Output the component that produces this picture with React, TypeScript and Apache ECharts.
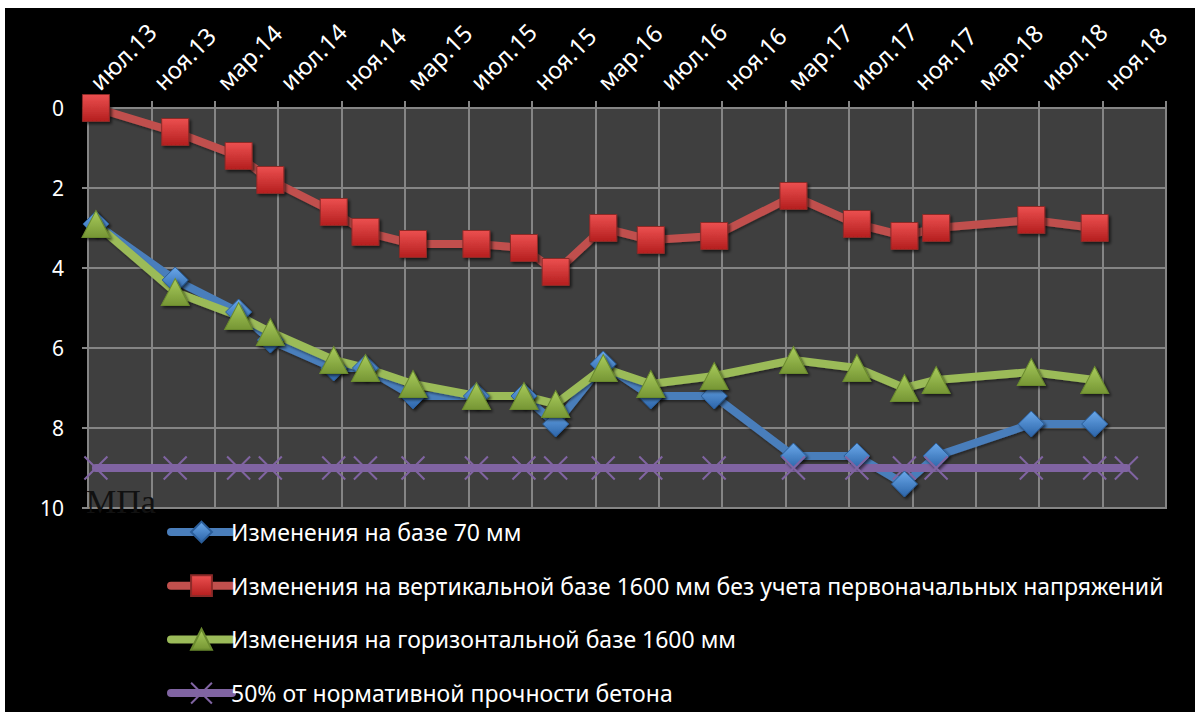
import React, { useEffect, useRef } from "react";
import * as echarts from "echarts";

// Measurement dates (year-month)
const dates = [
  "2013-07", "2013-12", "2014-04", "2014-06", "2014-10", "2014-12",
  "2015-03", "2015-07", "2015-10", "2015-12", "2016-03", "2016-06",
  "2016-10", "2017-03", "2017-07", "2017-10", "2017-12", "2018-06",
  "2018-10", "2018-12",
];

const base70 = [2.9, 4.3, 5.1, 5.8, 6.5, 6.5, 7.2, 7.2, 7.2, 7.9, 6.4, 7.2, 7.2, 8.7, 8.7, 9.4, 8.7, 7.9, 7.9, null];
const vertical1600 = [0, 0.6, 1.2, 1.8, 2.6, 3.1, 3.4, 3.4, 3.5, 4.1, 3.0, 3.3, 3.2, 2.2, 2.9, 3.2, 3.0, 2.8, 3.0, null];
const horizontal1600 = [2.9, 4.6, 5.2, 5.6, 6.3, 6.5, 6.9, 7.2, 7.2, 7.4, 6.5, 6.9, 6.7, 6.3, 6.5, 7.0, 6.8, 6.6, 6.8, null];
const norm50 = [9, 9, 9, 9, 9, 9, 9, 9, 9, 9, 9, 9, 9, 9, 9, 9, 9, 9, 9, 9];

const tickLabels = [
  "июл.13", "ноя.13", "мар.14", "июл.14", "ноя.14", "мар.15", "июл.15", "ноя.15",
  "мар.16", "июл.16", "ноя.16", "мар.17", "июл.17", "ноя.17", "мар.18", "июл.18", "ноя.18",
];

const seriesNames = [
  "Изменения на базе 70 мм",
  "Изменения на вертикальной базе 1600 мм без учета первоначальных напряжений",
  "Изменения на горизонтальной базе 1600 мм",
  "50% от нормативной прочности бетона",
];

// month slot centre, counted from July 2013 (axis start)
const monthPos = (d: string) => {
  const [y, m] = d.split("-").map(Number);
  return (y - 2013) * 12 + (m - 7) + 0.5;
};

const toPoints = (vals: (number | null)[]) =>
  dates.map((d, i) => [monthPos(d), vals[i]]).filter((p) => p[1] !== null);

const grad = (top: string, bottom: string) => ({
  type: "linear",
  x: 0,
  y: 0,
  x2: 0,
  y2: 1,
  colorStops: [
    { offset: 0, color: top },
    { offset: 1, color: bottom },
  ],
});

export default function App() {
  const ref = useRef<HTMLDivElement>(null);

  useEffect(() => {
    if (!ref.current) return;
    const chart = echarts.init(ref.current, null, { renderer: "svg" });
    const FONT = "Noto Sans";
    const shadow = {
      shadowBlur: 3,
      shadowColor: "rgba(0,0,0,0.6)",
      shadowOffsetX: 2,
      shadowOffsetY: 2,
    };
    const lineBase = (color: string, withShadow = true) => ({
      width: 8,
      color,
      cap: "round",
      join: "round",
      ...(withShadow
        ? {
            shadowBlur: 2,
            shadowColor: "rgba(0,0,0,0.4)",
            shadowOffsetX: 1,
            shadowOffsetY: 2,
          }
        : {}),
    });

    chart.setOption({
      animation: false,
      backgroundColor: "#000000",
      grid: {
        left: 83,
        top: 100,
        right: 29,
        bottom: 204,
        show: true,
        backgroundColor: "#3f3f3f",
        borderColor: "#858585",
        borderWidth: 2,
      },
      xAxis: {
        type: "value",
        position: "top",
        min: 0,
        max: 68,
        interval: 4,
        axisLine: { show: true, lineStyle: { color: "#858585", width: 2 } },
        axisTick: { show: true, length: 7, lineStyle: { color: "#858585", width: 2 } },
        splitLine: { show: true, lineStyle: { color: "#858585", width: 2 } },
        axisLabel: {
          rotate: 45,
          margin: 17,
          color: "#ffffff",
          fontSize: 24,
          fontFamily: FONT,
          padding: [0, 0, 0, 8],
          showMaxLabel: true,
          formatter: (v: number) => tickLabels[Math.round(v / 4)] ?? "",
        },
      },
      yAxis: {
        type: "value",
        inverse: true,
        min: 0,
        max: 10,
        interval: 2,
        axisLine: { show: true, lineStyle: { color: "#858585", width: 2 } },
        axisTick: { show: true, length: 6, lineStyle: { color: "#858585", width: 2 } },
        splitLine: { show: true, lineStyle: { color: "#858585", width: 2 } },
        axisLabel: {
          margin: 24,
          color: "#ffffff",
          fontSize: 21,
          fontFamily: FONT,
        },
      },
      legend: {
        orient: "vertical",
        left: 157,
        top: 506,
        itemWidth: 61,
        itemHeight: 26,
        itemGap: 27.7,
        lineStyle: { width: 8, cap: "round" },
        textStyle: {
          color: "#ffffff",
          fontSize: 23,
          fontFamily: FONT,
          lineHeight: 26,
          padding: [0, 0, 0, -6],
        },
        data: seriesNames,
      },
      graphic: [
        {
          type: "text",
          x: 81,
          y: 510,
          z: 100,
          style: {
            text: "МПа",
            fill: "#111111",
            font: "34px 'Liberation Serif'",
            verticalAlign: "bottom",
          },
        },
      ],
      series: [
        {
          name: seriesNames[0],
          type: "line",
          data: toPoints(base70),
          symbol: "diamond",
          symbolSize: 26,
          lineStyle: lineBase("#4a7ebb"),
          itemStyle: { color: grad("#6aa8ea", "#2c64a8"), borderColor: "#2a5d99", borderWidth: 1, ...shadow },
          emphasis: { disabled: true },
        },
        {
          name: seriesNames[1],
          type: "line",
          data: toPoints(vertical1600),
          symbol: "rect",
          symbolSize: 27,
          lineStyle: lineBase("#c0504d"),
          itemStyle: { color: grad("#ec5050", "#b41e1e"), borderColor: "#8c2a28", borderWidth: 1, ...shadow },
          emphasis: { disabled: true },
        },
        {
          name: seriesNames[2],
          type: "line",
          data: toPoints(horizontal1600),
          symbol: "triangle",
          symbolSize: [28, 27],
          lineStyle: lineBase("#9bbb59"),
          itemStyle: { color: grad("#a9cc5c", "#769634"), borderColor: "#6a8a2e", borderWidth: 1, ...shadow },
          emphasis: { disabled: true },
        },
        {
          name: seriesNames[3],
          type: "line",
          data: toPoints(norm50),
          symbol: "path://M0,0L10,10M10,0L0,10",
          symbolSize: 23,
          lineStyle: lineBase("#8064a2", false),
          itemStyle: { color: "#8064a2", borderColor: "#8064a2", borderWidth: 2 },
          emphasis: { disabled: true },
        },
      ],
    });
    return () => chart.dispose();
  }, []);

  return (
    <div
      ref={ref}
      style={{ position: "absolute", left: 5, top: 8, width: 1190, height: 704 }}
    />
  );
}
